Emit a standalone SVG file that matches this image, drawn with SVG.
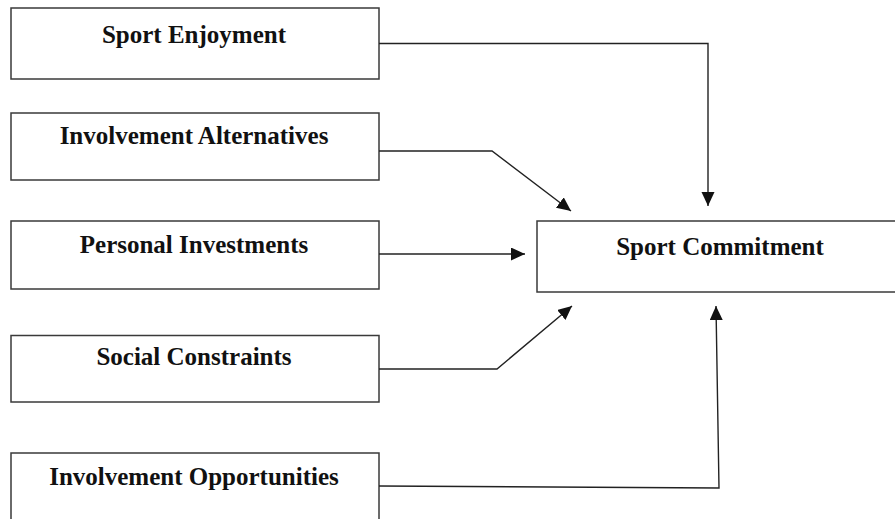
<svg xmlns="http://www.w3.org/2000/svg" width="895" height="519" viewBox="0 0 895 519">
<style>
.box{fill:#fff;stroke:#3a3a3a;stroke-width:1.5}
.lbl{font-family:"Liberation Serif","Times New Roman",serif;font-weight:bold;font-size:25px;fill:#111;text-anchor:middle}
.conn{fill:none;stroke:#222;stroke-width:1.4}
</style>
<defs>
<marker id="ah" markerUnits="userSpaceOnUse" markerWidth="15" markerHeight="14" refX="14" refY="6.5" orient="auto" viewBox="0 0 15 14">
<path d="M0,0 L14,6.5 L0,13 z" fill="#111"/>
</marker>
</defs>
<rect width="895" height="519" fill="#fff"/>
<g id="sport-enjoyment"><rect class="box" x="11" y="8" width="368" height="71"/><text class="lbl" x="194" y="43">Sport Enjoyment</text></g>
<g id="involvement-alternatives"><rect class="box" x="11" y="113" width="368" height="67"/><text class="lbl" x="194" y="144">Involvement Alternatives</text></g>
<g id="personal-investments"><rect class="box" x="11" y="221" width="368" height="68"/><text class="lbl" x="194" y="253">Personal Investments</text></g>
<g id="social-constraints"><rect class="box" x="11" y="335.5" width="368" height="66.5"/><text class="lbl" x="194" y="365">Social Constraints</text></g>
<g id="involvement-opportunities"><rect class="box" x="11" y="453" width="368" height="75"/><text class="lbl" x="194" y="485">Involvement Opportunities</text></g>
<g id="sport-commitment"><rect class="box" x="537" y="221" width="370" height="71"/><text class="lbl" x="720" y="255">Sport Commitment</text></g>
<g id="connectors">
<path class="conn" d="M379,43.5 H708 V206" marker-end="url(#ah)"/>
<path class="conn" d="M379,151 H492 L571,211" marker-end="url(#ah)"/>
<path class="conn" d="M379,254 H525" marker-end="url(#ah)"/>
<path class="conn" d="M379,369 H497 L572,306" marker-end="url(#ah)"/>
<path class="conn" d="M379,486 L719,488 L716,306" marker-end="url(#ah)"/>
</g>
</svg>
